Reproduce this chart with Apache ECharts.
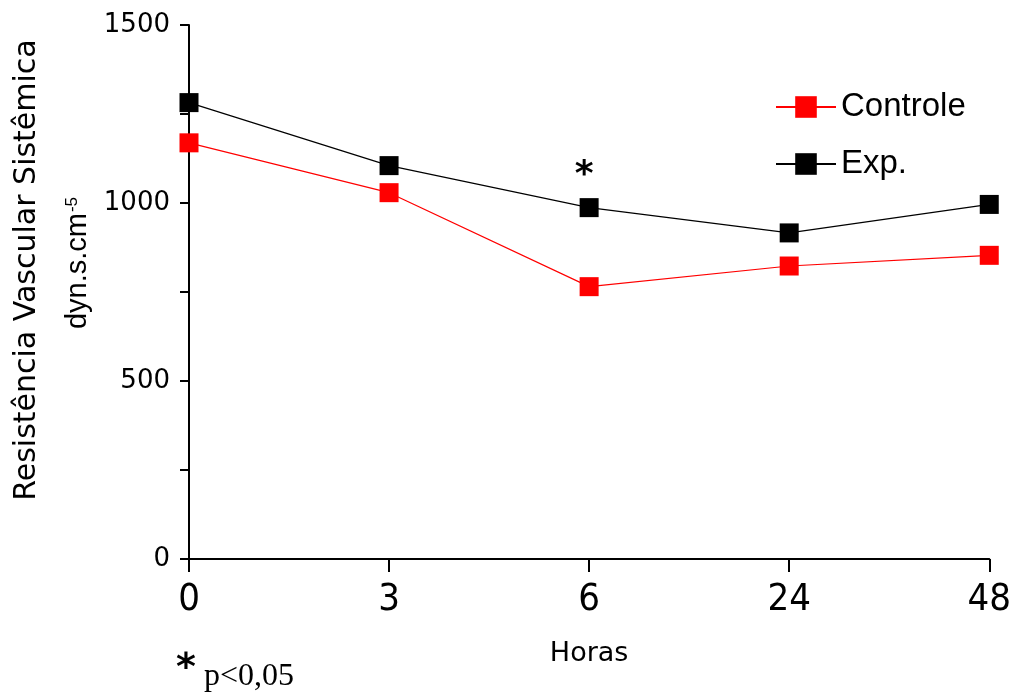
<!DOCTYPE html>
<html>
<head>
<meta charset="utf-8">
<script src="https://cdn.jsdelivr.net/npm/echarts@6/dist/echarts.min.js"></script>
<style>
  html, body { margin: 0; padding: 0; background: #fff; overflow: hidden; }
  #chart { width: 1014px; height: 700px; }
</style>
</head>
<body>
<div id="chart"></div>
<script>
// Time points (hours) and systemic vascular resistance (dyn.s.cm-5)
const horas = ['0', '3', '6', '24', '48'];
const controle = [1169, 1029, 765, 823, 853];
const experimental = [1282, 1105, 987, 916, 996];
// index of the time point marked as significant (p<0,05)
const significantIndex = 2;

const chart = echarts.init(document.getElementById('chart'));

const expData = experimental.map((v, i) => i === significantIndex ? {
  value: v,
  label: {
    show: true, formatter: '*', position: 'top', distance: 4, offset: [-5, 0],
    fontFamily: 'DejaVu Sans', fontSize: 36, fontWeight: 'bold', color: '#000'
  }
} : v);

chart.setOption({
  animation: false,
  grid: { left: 189, right: 21, top: 25, bottom: 141 },
  legend: {
    orient: 'vertical', left: 770, top: 83,
    itemWidth: 60, itemHeight: 27, itemGap: 19,
    textStyle: { fontFamily: 'Liberation Sans', fontSize: 33, color: '#000', lineHeight: 38 },
    data: ['Controle', 'Exp.']
  },
  xAxis: {
    type: 'category', data: horas, boundaryGap: false,
    name: 'Horas', nameLocation: 'middle', nameGap: 81,
    nameTextStyle: { fontFamily: 'DejaVu Sans', fontSize: 27, color: '#000' },
    axisLine: { lineStyle: { color: '#000', width: 2 } },
    axisTick: { length: 13, lineStyle: { color: '#000', width: 2 } },
    axisLabel: { margin: 22, fontFamily: 'DejaVu Sans Condensed, sans-serif', fontSize: 38, color: '#000' },
    splitLine: { show: false }
  },
  yAxis: {
    type: 'value', min: 0, max: 1500, interval: 250,
    axisLine: { show: true, lineStyle: { color: '#000', width: 2 } },
    axisTick: { show: true, length: 9, lineStyle: { color: '#000', width: 2 } },
    axisLabel: {
      margin: 19, fontFamily: 'DejaVu Sans', fontSize: 26, color: '#000',
      formatter: v => (v % 500 === 0 ? String(v) : '')
    },
    splitLine: { show: false }
  },
  graphic: [
    {
      type: 'text', x: 27, y: 270, rotation: Math.PI / 2,
      style: {
        text: 'Resistência Vascular Sistêmica', fill: '#000',
        fontFamily: 'DejaVu Sans', fontSize: 30, textAlign: 'center', textVerticalAlign: 'middle'
      }
    },
    {
      type: 'text', x: 78, y: 263, rotation: Math.PI / 2,
      style: {
        text: '{b|dyn.s.cm}{s|-5}', textAlign: 'center', textVerticalAlign: 'middle',
        rich: {
          b: { fontFamily: 'Liberation Sans', fontSize: 29, fill: '#000', verticalAlign: 'bottom' },
          s: { fontFamily: 'Liberation Sans', fontSize: 17, fill: '#000', verticalAlign: 'top', padding: [0, 0, 12, 1] }
        }
      }
    },
    {
      type: 'text', x: 176, y: 650,
      style: { text: '*', fill: '#000', fontFamily: 'DejaVu Sans', fontWeight: 'bold', fontSize: 38 }
    },
    {
      type: 'text', x: 204, y: 661,
      style: { text: 'p<0,05', fill: '#000', fontFamily: 'Liberation Serif', fontSize: 32 }
    }
  ],
  series: [
    {
      name: 'Controle', type: 'line', data: controle,
      symbol: 'rect', symbolSize: 19,
      lineStyle: { color: '#ff0000', width: 1.2 },
      itemStyle: { color: '#ff0000' }
    },
    {
      name: 'Exp.', type: 'line', data: expData,
      symbol: 'rect', symbolSize: 19,
      lineStyle: { color: '#000', width: 1.2 },
      itemStyle: { color: '#000' }
    }
  ]
});
</script>
</body>
</html>
